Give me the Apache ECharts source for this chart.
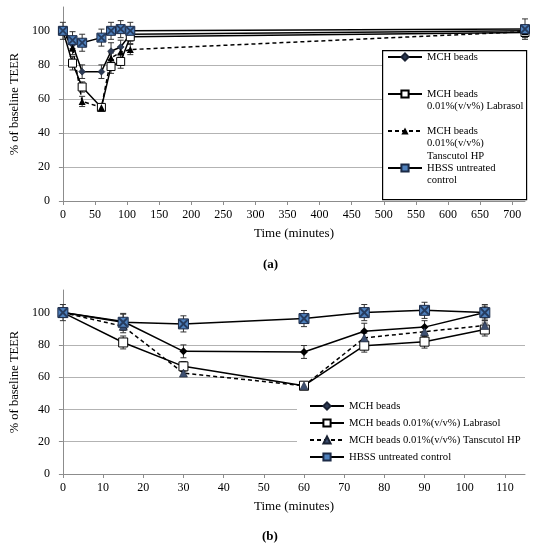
<!DOCTYPE html>
<html lang="en">
<head>
<meta charset="utf-8">
<style>
  html, body { margin: 0; padding: 0; background: #fff; }
  #container { width: 533px; height: 550px; }
</style>
</head>
<body>
<div id="container"></div>
<script src="https://cdn.jsdelivr.net/npm/echarts@6/dist/echarts.min.js"></script>
<script>
// ---- data ----
var timesA = [0, 15, 30, 60, 75, 90, 105, 720];
var timesB = [0, 15, 30, 60, 75, 90, 105];

var namesA = ['MCH beads', 'MCH beads\n0.01%(v/v%) Labrasol', 'MCH beads\n0.01%(v/v%)\nTanscutol HP', 'HBSS untreated\ncontrol'];
var namesB = ['MCH beads', 'MCH beads 0.01%(v/v%) Labrasol', 'MCH beads 0.01%(v/v%) Tanscutol HP', 'HBSS untreated control'];

// panel (a)
var beadsA = [100, 92, 76, 76, 88, 90.5, 98, 100];
var labrasolA = [100, 81, 67, 55, 79, 82, 96.5, 99];
var tanscutolA = [100, 90, 58.5, 55, 84, 87.5, 89, 99.5];
var hbssA = [100, 94.5, 93, 96, 100, 101, 100, 101];
var beadsErrA = [0, 4, 4, 4, 5, 4, 4, 3];
var labrasolErrA = [0, 4, 3, 2, 4, 4, 4, 3];
var tanscutolErrA = [0, 4, 3, 2, 3, 3, 3, 3];
var hbssErrA = [5, 5, 5, 5, 5, 5, 5, 6];

// panel (b)
var beadsB = [100, 94.5, 76, 75.6, 88.4, 91, 100];
var labrasolB = [100, 81.5, 66.7, 54.7, 79.5, 82, 89.5];
var tanscutolB = [100, 91.5, 62.5, 54.7, 84.3, 88.2, 92];
var hbssB = [100, 94, 93, 96.3, 100, 101.4, 100];
var beadsErrB = [0, 5, 4, 4, 5, 4, 4];
var labrasolErrB = [0, 4, 3, 2, 4, 4, 4];
var tanscutolErrB = [0, 4, 2, 2, 3, 3, 3];
var hbssErrB = [5, 5, 5, 5, 5, 5, 5];

var yTicks = [0, 20, 40, 60, 80, 100];
var xTicksA = [0, 50, 100, 150, 200, 250, 300, 350, 400, 450, 500, 550, 600, 650, 700];
var xTicksB = [0, 10, 20, 30, 40, 50, 60, 70, 80, 90, 100, 110];

// ---- chart ----
var dom = document.getElementById('container');
var myChart = echarts.init(dom, null, { renderer: 'canvas' });

var FONT = 'Liberation Serif';
var GRID_COLOR = '#b3b3b3';
var AXIS_COLOR = '#8c8c8c';
var X_PATH = 'path://M0,0L1.6,0L5,3.4L8.4,0L10,0L10,1.6L6.6,5L10,8.4L10,10L8.4,10L5,6.6L1.6,10L0,10L0,8.4L3.4,5L0,1.6Z';

function pairs(xs, ys) {
  return xs.map(function (x, i) { return [x, ys[i]]; });
}

function lineSeries(name, xs, ys, gi, symbol, size, item, dashed) {
  return {
    name: name,
    type: 'line',
    xAxisIndex: gi,
    yAxisIndex: gi,
    data: pairs(xs, ys),
    symbol: symbol,
    symbolSize: size,
    showAllSymbol: true,
    z: 3,
    lineStyle: { color: '#000', width: 1.5, type: dashed ? [4, 3] : 'solid' },
    itemStyle: item,
    emphasis: { disabled: true }
  };
}

function errSeries(xs, ys, es, gi) {
  return {
    type: 'custom',
    xAxisIndex: gi,
    yAxisIndex: gi,
    silent: true,
    z: 2,
    data: xs.map(function (x, i) { return [x, ys[i], es[i]]; }),
    renderItem: function (params, api) {
      var x = api.value(0), y = api.value(1), e = api.value(2);
      if (!e) return;
      var hi = api.coord([x, y + e]);
      var lo = api.coord([x, y - e]);
      var c = 3;
      var st = { stroke: '#333', lineWidth: 1 };
      return {
        type: 'group',
        children: [
          { type: 'line', shape: { x1: hi[0], y1: hi[1], x2: lo[0], y2: lo[1] }, style: st },
          { type: 'line', shape: { x1: hi[0] - c, y1: hi[1], x2: hi[0] + c, y2: hi[1] }, style: st },
          { type: 'line', shape: { x1: lo[0] - c, y1: lo[1], x2: lo[0] + c, y2: lo[1] }, style: st }
        ]
      };
    }
  };
}

function crossSeries(xs, ys, gi, size) {
  return {
    type: 'scatter',
    xAxisIndex: gi,
    yAxisIndex: gi,
    silent: true,
    z: 4,
    symbol: X_PATH,
    symbolSize: size,
    itemStyle: { color: '#1b2a47' },
    data: pairs(xs, ys)
  };
}

function yAxis(gi) {
  return {
    type: 'value',
    gridIndex: gi,
    min: 0,
    max: 114,
    interval: 20,
    name: '% of baseline TEER',
    nameLocation: 'middle',
    nameGap: 37,
    nameTextStyle: { fontFamily: FONT, fontSize: 12.5, color: '#000' },
    axisLine: { show: true, lineStyle: { color: AXIS_COLOR } },
    axisTick: { show: true, length: 4, lineStyle: { color: AXIS_COLOR }, customValues: yTicks },
    axisLabel: { fontFamily: FONT, fontSize: 12, color: '#000', margin: 13, customValues: yTicks },
    splitLine: { show: true, showMinLine: false, showMaxLine: false, lineStyle: { color: GRID_COLOR, width: 1.2 } }
  };
}

function xAxis(gi, max, interval, ticks) {
  return {
    type: 'value',
    gridIndex: gi,
    min: 0,
    max: max,
    interval: interval,
    name: 'Time (minutes)',
    nameLocation: 'middle',
    nameGap: 26,
    nameTextStyle: { fontFamily: FONT, fontSize: 13, color: '#000' },
    axisLine: { show: true, onZero: false, lineStyle: { color: AXIS_COLOR } },
    axisTick: { show: true, length: 4, lineStyle: { color: AXIS_COLOR }, customValues: ticks },
    axisLabel: { fontFamily: FONT, fontSize: 12, color: '#000', margin: 8, customValues: ticks },
    splitLine: { show: false }
  };
}

var styleBeadsA = { color: '#2d3b55', borderColor: '#1a2233', borderWidth: 0.5 };
var styleBeadsB = { color: '#000' };
var styleSquare = { color: '#fff', borderColor: '#000', borderWidth: 1 };
var styleTriA = { color: '#000' };
var styleTriB = { color: '#3d4f70', borderColor: '#1a2233', borderWidth: 0.6 };
var styleHbss = { color: '#4f81bd', borderColor: '#1b2a47', borderWidth: 1 };

// legend (a): one component per entry; blank lines are prepended so the
// marker lines up with the first text line instead of the block centre
var LH = 12.5;
var legendYA = [57, 94, 131, 168];
var legendsA = namesA.map(function (n, i) {
  var lines = n.split('\n').length;
  return {
    data: [n],
    orient: 'vertical',
    left: 387,
    top: legendYA[i] - (2 * lines - 1) * LH / 2,
    padding: 0,
    itemWidth: 34,
    itemHeight: 9,
    selectedMode: false,
    z: 5,
    formatter: function (name) {
      return new Array(lines).join('\n') + name;
    },
    textStyle: { fontFamily: FONT, fontSize: 10.6, color: '#000', lineHeight: LH }
  };
});

var legendB = {
  data: namesB,
  orient: 'vertical',
  left: 297,
  top: 394.5,
  padding: [5, 6, 6, 12],
  itemGap: 4,
  itemWidth: 34,
  itemHeight: 9,
  selectedMode: false,
  backgroundColor: '#fff',
  z: 5,
  textStyle: { fontFamily: FONT, fontSize: 10.7, color: '#000', lineHeight: 13 }
};

var option = {
  animation: false,
  textStyle: { fontFamily: FONT },
  grid: [
    { left: 57, right: 8, top: 7, height: 194 },
    { left: 57, right: 8, top: 290, height: 184 }
  ],
  xAxis: [xAxis(0, 720, 50, xTicksA), xAxis(1, 115, 10, xTicksB)],
  yAxis: [yAxis(0), yAxis(1)],
  legend: legendsA.concat([legendB]),
  graphic: {
    elements: [
      { type: 'rect', left: 382, top: 50, z: 4, shape: { width: 144, height: 149 },
        style: { fill: '#fff', stroke: '#000', lineWidth: 1.2 } },
      { type: 'text', left: 263, top: 258, style: { text: '(a)', font: 'bold 13px "Liberation Serif"', fill: '#000' } },
      { type: 'text', left: 262, top: 530, style: { text: '(b)', font: 'bold 13px "Liberation Serif"', fill: '#000' } }
    ]
  },
  series: [
    errSeries(timesA, beadsA, beadsErrA, 0),
    errSeries(timesA, labrasolA, labrasolErrA, 0),
    errSeries(timesA, tanscutolA, tanscutolErrA, 0),
    errSeries(timesA, hbssA, hbssErrA, 0),
    lineSeries(namesA[0], timesA, beadsA, 0, 'diamond', 7, styleBeadsA, false),
    lineSeries(namesA[1], timesA, labrasolA, 0, 'rect', 8, styleSquare, false),
    lineSeries(namesA[2], timesA, tanscutolA, 0, 'triangle', 7, styleTriA, true),
    lineSeries(namesA[3], timesA, hbssA, 0, 'rect', 9, styleHbss, false),
    crossSeries(timesA, hbssA, 0, 8),

    errSeries(timesB, beadsB, beadsErrB, 1),
    errSeries(timesB, labrasolB, labrasolErrB, 1),
    errSeries(timesB, tanscutolB, tanscutolErrB, 1),
    errSeries(timesB, hbssB, hbssErrB, 1),
    lineSeries(namesB[0], timesB, beadsB, 1, 'diamond', 8, styleBeadsB, false),
    lineSeries(namesB[1], timesB, labrasolB, 1, 'rect', 9, styleSquare, false),
    lineSeries(namesB[2], timesB, tanscutolB, 1, 'triangle', 8, styleTriB, true),
    lineSeries(namesB[3], timesB, hbssB, 1, 'rect', 10, styleHbss, false),
    crossSeries(timesB, hbssB, 1, 9)
  ]
};

myChart.setOption(option);
window.addEventListener('resize', myChart.resize);
</script>
</body>
</html>
